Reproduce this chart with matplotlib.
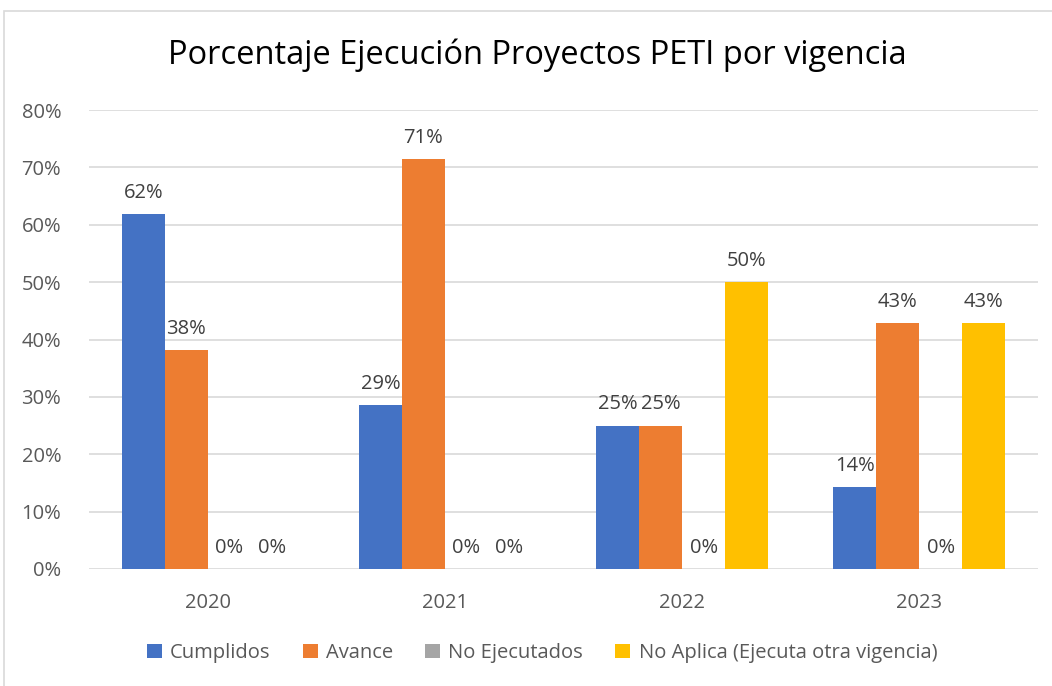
import matplotlib
matplotlib.use("Agg")
import matplotlib.pyplot as plt
from matplotlib.patches import Rectangle, Patch
import numpy as np

categories = ["2020", "2021", "2022", "2023"]
series_names = ["Cumplidos", "Avance", "No Ejecutados", "No Aplica (Ejecuta otra vigencia)"]
cumplidos = [0.619, 0.286, 0.25, 0.143]
avance = [0.381, 0.714, 0.25, 0.429]
no_ejecutados = [0.0, 0.0, 0.0, 0.0]
no_aplica = [0.0, 0.0, 0.50, 0.429]
colors = ["#4472C4", "#ED7D31", "#A5A5A5", "#FFC000"]
yticks = [0, 0.1, 0.2, 0.3, 0.4, 0.5, 0.6, 0.7, 0.8]

plt.rcParams['font.family'] = ['Open Sans', 'DejaVu Sans']

fig = plt.figure(figsize=(10.52, 6.86), dpi=100)
fig.patches.append(Rectangle((4/1052, -0.1), 1.2, 1 - 11/686 + 0.1, transform=fig.transFigure,
                             fill=False, edgecolor="#D9D9D9", linewidth=1.2))
ax = fig.add_axes([89/1052, 1 - 569/686, (1038 - 89)/1052, (569 - 110)/686])

all_series = [cumplidos, avance, no_ejecutados, no_aplica]
x = np.arange(len(categories))
w = 0.181
for i, (vals, name, c) in enumerate(zip(all_series, series_names, colors)):
    pos = x + (i - 1.5) * w
    ax.bar(pos, vals, width=w, color=c, label=name, zorder=3)
    for p, v in zip(pos, vals):
        ax.annotate(f"{round(v*100):.0f}%", (p, v), xytext=(0, 8), textcoords="offset points",
                    ha="center", va="bottom", fontsize=14.5, color="#404040")

ax.set_xlim(-0.5, 3.5)
ax.set_ylim(0, 0.8)
ax.set_yticks(yticks)
ax.set_yticklabels([f"{int(round(t*100))}%" for t in yticks])
ax.set_xticks(x)
ax.set_xticklabels(categories)
ax.tick_params(axis="both", length=0, labelsize=14.5, colors="#595959")
ax.tick_params(axis="y", pad=20)
ax.tick_params(axis="x", pad=17)
ax.grid(axis="y", color="#D9D9D9", linewidth=1.2, zorder=0)
for s in ax.spines.values():
    s.set_visible(False)

fig.text(537/1052, 1 - 55/686, "Porcentaje Ejecución Proyectos PETI por vigencia",
         ha="center", va="center", fontsize=23.5, color="#000000")

handles = [Patch(facecolor=c) for c in colors]
fig.legend(handles, series_names, loc="center", bbox_to_anchor=(542/1052, 1 - 653/686),
           ncol=4, frameon=False, fontsize=14.5, labelcolor="#595959",
           handlelength=0.75, handleheight=0.75, handletextpad=0.4, columnspacing=1.6)

fig.savefig("out.png", dpi=100)
